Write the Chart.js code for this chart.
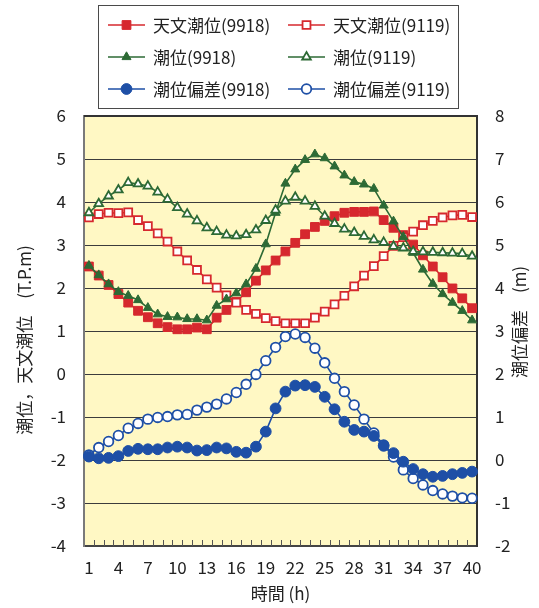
<!DOCTYPE html>
<html>
<head>
<meta charset="utf-8">
<script src="https://cdn.jsdelivr.net/npm/chart.js@4/dist/chart.umd.min.js"></script>
<style>
  html, body { margin: 0; padding: 0; background: #fff; }
  #wrap { width: 539px; height: 608px; }
</style>
</head>
<body>
<div id="wrap"><canvas id="c" width="539" height="608"></canvas></div>
<script>
// Hourly tide records, stations 9918 and 9119
const hours = ['1','2','3','4','5','6','7','8','9','10','11','12','13','14','15','16','17','18','19','20',
               '21','22','23','24','25','26','27','28','29','30','31','32','33','34','35','36','37','38','39','40'];
const hourTicks = ['1','4','7','10','13','16','19','22','25','28','31','34','37','40'];

// 天文潮位 (T.P.m)
const astro9918 = [2.50,2.29,2.07,1.86,1.66,1.47,1.32,1.18,1.09,1.04,1.04,1.08,1.04,1.31,1.49,1.68,1.90,2.17,2.41,2.64,
                   2.85,3.05,3.25,3.42,3.56,3.67,3.75,3.77,3.77,3.78,3.58,3.40,3.23,3.01,2.76,2.50,2.25,1.99,1.76,1.53];
const astro9119 = [3.64,3.72,3.75,3.74,3.76,3.58,3.44,3.27,3.08,2.85,2.64,2.42,2.20,2.01,1.83,1.66,1.49,1.40,1.30,1.23,
                   1.18,1.18,1.18,1.31,1.45,1.62,1.82,2.04,2.29,2.51,2.74,2.98,3.18,3.31,3.46,3.56,3.64,3.69,3.70,3.65];
// 潮位 (T.P.m)
const tide9918 = [2.52,2.30,2.09,1.91,1.82,1.72,1.54,1.39,1.33,1.32,1.28,1.28,1.25,1.59,1.74,1.88,2.09,2.45,3.02,3.75,
                  4.43,4.76,4.98,5.11,5.02,4.83,4.62,4.47,4.41,4.31,3.92,3.55,3.19,2.82,2.43,2.10,1.86,1.66,1.47,1.25];
const tide9119 = [3.75,3.96,4.14,4.28,4.45,4.42,4.37,4.23,4.06,3.87,3.72,3.56,3.40,3.31,3.23,3.21,3.24,3.35,3.57,3.81,
                  4.02,4.11,4.02,3.90,3.67,3.50,3.37,3.29,3.20,3.12,3.06,2.97,2.93,2.85,2.84,2.83,2.82,2.81,2.80,2.74];
// 潮位偏差 (m), right axis
const surge9918 = [0.08,0.04,0.05,0.09,0.21,0.26,0.25,0.25,0.29,0.31,0.29,0.22,0.23,0.29,0.27,0.19,0.17,0.31,0.66,1.20,
                   1.59,1.73,1.74,1.70,1.47,1.18,0.89,0.70,0.66,0.56,0.33,0.16,-0.04,-0.21,-0.33,-0.39,-0.37,-0.33,-0.30,-0.27];
const surge9119 = [0.12,0.29,0.43,0.57,0.74,0.85,0.95,0.99,1.01,1.05,1.06,1.16,1.23,1.30,1.42,1.57,1.76,1.99,2.31,2.62,
                   2.87,2.93,2.85,2.60,2.26,1.90,1.59,1.28,0.95,0.63,0.35,0.07,-0.23,-0.43,-0.58,-0.71,-0.79,-0.84,-0.88,-0.89];

const RED = '#D6282E', GREEN = '#2D6A35', BLUE = '#1E4FA6';
const FONT = '"Noto Sans CJK JP", "Noto Sans", sans-serif';

function series(label, data, color, style, radius, filled, axis, order) {
  return {
    label, data, yAxisID: axis, order,
    borderColor: color, borderWidth: 1.6,
    pointStyle: style, pointRadius: radius, pointHoverRadius: radius,
    pointBackgroundColor: filled ? color : '#ffffff',
    pointBorderColor: color, pointBorderWidth: filled ? 1 : 1.8,
    tension: 0, fill: false
  };
}

const datasets = [
  series('天文潮位(9918)', astro9918, RED,   'rect',     6.2, true,  'y',  6),
  series('天文潮位(9119)', astro9119, RED,   'rect',     5.6, false, 'y',  5),
  series('潮位(9918)',     tide9918,  GREEN, 'triangle', 5.2, true,  'y',  4),
  series('潮位(9119)',     tide9119,  GREEN, 'triangle', 5.0, false, 'y',  3),
  series('潮位偏差(9918)', surge9918, BLUE,  'circle',   5.4, true,  'y2', 1),
  series('潮位偏差(9119)', surge9119, BLUE,  'circle',   4.8, false, 'y2', 2)
];

function verticalText(ctx, text, x, y) {
  ctx.save();
  ctx.translate(x, y);
  ctx.rotate(-Math.PI / 2);
  ctx.textAlign = 'center';
  ctx.textBaseline = 'middle';
  ctx.fillStyle = '#222';
  ctx.fillText(text, 0, 0);
  ctx.restore();
}

// plot background, frame, inner hour ticks, legend box and axis titles
const decor = {
  id: 'decor',
  beforeDraw(chart) {
    const { ctx, chartArea: a } = chart;
    ctx.save();
    ctx.fillStyle = '#FFF8C4';
    ctx.fillRect(a.left, a.top, a.right - a.left, a.bottom - a.top);
    ctx.restore();
  },
  afterDatasetsDraw(chart) {
    const { ctx, chartArea: a, scales } = chart;
    const xs = scales.x;
    const step = xs.getPixelForValue(1) - xs.getPixelForValue(0);
    ctx.save();
    ctx.strokeStyle = '#555';
    ctx.lineWidth = 1;
    for (let k = 0; k < hours.length - 1; k++) {
      const x = Math.round(xs.getPixelForValue(k) + step / 2) + 0.5;
      ctx.beginPath();
      ctx.moveTo(x, a.bottom);
      ctx.lineTo(x, a.bottom - 6);
      ctx.stroke();
    }
    ctx.strokeStyle = '#333';
    ctx.lineWidth = 2;
    ctx.beginPath();
    ctx.moveTo(a.left, a.top);
    ctx.lineTo(a.right, a.top);
    ctx.stroke();
    ctx.restore();
  },
  afterDraw(chart) {
    const { ctx } = chart;
    ctx.save();
    // legend frame
    ctx.strokeStyle = '#4a4a4a';
    ctx.lineWidth = 1;
    ctx.strokeRect(98.5, 5.5, 360, 103);
    const cols = [108, 288];
    const rows = [25, 57, 89];
    ctx.font = '17px ' + FONT;
    ctx.textBaseline = 'middle';
    ctx.textAlign = 'left';
    datasets.forEach((ds, i) => {
      const x0 = cols[i % 2], y = rows[Math.floor(i / 2)];
      ctx.strokeStyle = ds.borderColor;
      ctx.lineWidth = 1.6;
      ctx.beginPath();
      ctx.moveTo(x0, y);
      ctx.lineTo(x0 + 37, y);
      ctx.stroke();
      ctx.fillStyle = ds.pointBackgroundColor;
      ctx.strokeStyle = ds.pointBorderColor;
      ctx.lineWidth = ds.pointBorderWidth;
      Chart.helpers.drawPoint(ctx, {
        pointStyle: ds.pointStyle, rotation: 0,
        radius: ds.pointRadius, borderWidth: ds.pointBorderWidth
      }, x0 + 18.5, y);
      ctx.fillStyle = '#222';
      ctx.fillText(ds.label, x0 + 45, y + 1);
    });
    // axis titles, both reading bottom to top
    verticalText(ctx, '潮位，天文潮位　(T.P.m)', 25, 340);
    verticalText(ctx, '潮位偏差　(m)', 520, 322);
    ctx.restore();
  }
};

new Chart(document.getElementById('c'), {
  type: 'line',
  data: { labels: hours, datasets },
  options: {
    responsive: false,
    animation: false,
    devicePixelRatio: 1,
    layout: { padding: { top: 116, left: 0, right: 0, bottom: 0 } },
    plugins: { legend: { display: false }, tooltip: { enabled: false } },
    scales: {
      x: {
        type: 'category',
        offset: true,
        grid: { display: false, drawTicks: false },
        border: { display: true, color: '#444', width: 2 },
        ticks: {
          autoSkip: false, maxRotation: 0, padding: 11, color: '#222',
          font: { family: FONT, size: 17 },
          callback: function (v) { const l = this.getLabelForValue(v); return hourTicks.includes(l) ? l : ''; }
        },
        title: { display: true, text: '時間 (h)', color: '#222', font: { family: FONT, size: 17 }, padding: { top: 0, bottom: 4 } },
        afterFit: s => { s.height = 62; }
      },
      y: {
        position: 'left', min: -4, max: 6,
        grid: { color: '#3c3c3c', lineWidth: 1, drawTicks: false },
        border: { display: true, color: '#7a7a7a', width: 2 },
        ticks: { stepSize: 1, padding: 18, color: '#222', font: { family: FONT, size: 17 } },
        afterFit: s => { s.width = 84; }
      },
      y2: {
        position: 'right', min: -2, max: 8,
        grid: { display: false, drawTicks: false },
        border: { display: true, color: '#333', width: 2 },
        ticks: { stepSize: 1, padding: 18, color: '#222', font: { family: FONT, size: 17 } },
        afterFit: s => { s.width = 62; }
      }
    }
  },
  plugins: [decor]
});
</script>
</body>
</html>
